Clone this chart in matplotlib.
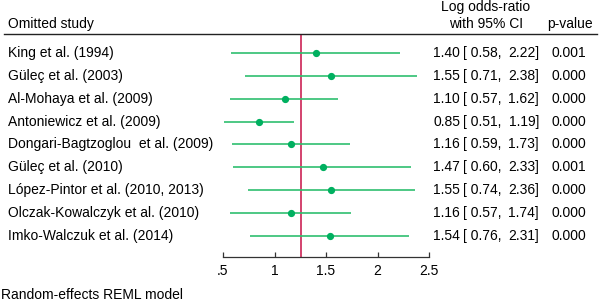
import matplotlib
matplotlib.use("Agg")
import matplotlib.pyplot as plt
import matplotlib.transforms as mtransforms

plt.rcParams['font.family'] = ['Liberation Sans', 'DejaVu Sans']

studies = ["King et al. (1994)", "Güleç et al. (2003)", "Al-Mohaya et al. (2009)",
           "Antoniewicz et al. (2009)", "Dongari-Bagtzoglou  et al. (2009)",
           "Güleç et al. (2010)", "López-Pintor et al. (2010, 2013)",
           "Olczak-Kowalczyk et al. (2010)", "Imko-Walczuk et al. (2014)"]
est = [1.40, 1.55, 1.10, 0.85, 1.16, 1.47, 1.55, 1.16, 1.54]
lo = [0.58, 0.71, 0.57, 0.51, 0.59, 0.60, 0.74, 0.57, 0.76]
hi = [2.22, 2.38, 1.62, 1.19, 1.73, 2.33, 2.36, 1.74, 2.31]
pvals = ["0.001", "0.000", "0.000", "0.000", "0.000", "0.001", "0.000", "0.000", "0.000"]
overall = 1.26
xticks = [0.5, 1, 1.5, 2, 2.5]
xticklabels = [".5", "1", "1.5", "2", "2.5"]

W, H = 600, 301
fig = plt.figure(figsize=(W / 100, H / 100), dpi=100)
ax = fig.add_axes([223 / W, 1 - 257 / H, (429 - 223) / W, (257 - 34) / H])

green_line = '#2fbf6f'
green_mark = '#00b060'
red = '#cc2255'

n = len(studies)
ys = list(range(n))
ax.hlines(ys, lo, hi, color=green_line, lw=1.2, zorder=2)
ax.plot(est, ys, 'o', color=green_mark, ms=4.2, zorder=3)
ax.axvline(overall, color=red, lw=1.2, zorder=1)

ax.set_xlim(0.5, 2.5)
ax.set_ylim(n - 1 + 0.918, -0.83)
ax.set_yticks([])
for s in ['top', 'right', 'left']:
    ax.spines[s].set_visible(False)
ax.spines['bottom'].set_linewidth(0.9)
ax.spines['bottom'].set_color('#333333')
ax.set_xticks(xticks)
ax.set_xticklabels(xticklabels, fontsize=10)
ax.tick_params(axis='x', direction='in', length=3.5, width=0.9, color='#333333', pad=5)
ax.patch.set_visible(False)

trans = mtransforms.blended_transform_factory(fig.transFigure, ax.transData)
fs = 10
for i in range(n):
    fig.text(8 / W, ys[i], studies[i], transform=trans, fontsize=fs, va='center', ha='left')
    fig.text(433 / W, ys[i], f"{est[i]:.2f}", transform=trans, fontsize=fs, va='center', ha='left')
    fig.text(463 / W, ys[i], f"[ {lo[i]:.2f},", transform=trans, fontsize=fs, va='center', ha='left')
    fig.text(539 / W, ys[i], f"{hi[i]:.2f}]", transform=trans, fontsize=fs, va='center', ha='right')
    fig.text(552 / W, ys[i], pvals[i], transform=trans, fontsize=fs, va='center', ha='left')

# header
fig.text(8 / W, 1 - 24 / H, "Omitted study", fontsize=fs, va='center', ha='left')
fig.text(486 / W, 1 - 7 / H, "Log odds-ratio", fontsize=fs, va='center', ha='center')
fig.text(486 / W, 1 - 24 / H, "with 95% CI", fontsize=fs, va='center', ha='center')
fig.text(570 / W, 1 - 24 / H, "p-value", fontsize=fs, va='center', ha='center')
fig.add_artist(plt.Line2D([4 / W, 597 / W], [1 - 34 / H, 1 - 34 / H], color='#222222', lw=1.0,
                          transform=fig.transFigure))

fig.text(1 / W, 1 - 295 / H, "Random-effects REML model", fontsize=fs, va='center', ha='left')

fig.savefig("out.png", dpi=100)
